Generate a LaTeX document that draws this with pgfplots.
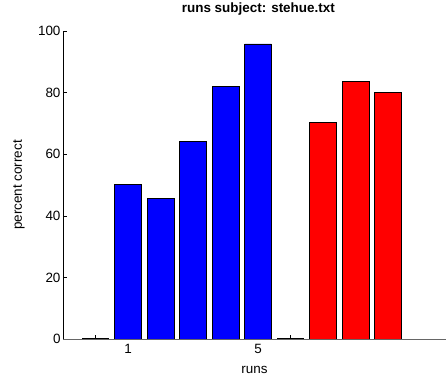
\documentclass[border=0pt]{standalone}
\usepackage{fontspec}
\setmainfont{Liberation Sans}
\usepackage{pgfplots}
\pgfplotsset{compat=1.18}
\begin{document}
\begin{tikzpicture}
\begin{axis}[
  set layers,
  scale only axis,
  width=383bp, height=308bp,
  xmin=-1, xmax=10.78,
  ymin=0, ymax=100,
  axis x line=bottom, axis y line=left,
  axis line style={-, black},
  x axis line style={black!60},
  ytick={0,20,40,60,80,100},
  xtick={1,5},
  extra x ticks={0,6},
  extra x tick labels={},
  tick align=inside,
  extra x tick style={tick align=inside, major tick length=4bp, tick style={black, line width=0.6pt}},
  major tick length=4bp,
  tick style={black, line width=0.5pt},
  /pgf/number format/assume math mode=true,
  ticklabel style={font=\fontsize{13.5}{15}\selectfont},
  yticklabel style={xshift=1bp},
  xticklabel style={yshift=-2bp},
  label style={font=\fontsize{13.5}{15}\selectfont},
  ylabel={percent correct},
  xlabel={runs},
  ylabel style={at={(rel axis cs:0,0.5)}, anchor=center, yshift=44bp},
  xlabel style={at={(rel axis cs:0.5,0)}, anchor=center, yshift=-31bp},
  title={\bfseries runs subject: stehue.txt},
  title style={font=\fontsize{13.5}{15}\selectfont, at={(rel axis cs:0.51,1)}, anchor=center, yshift=16bp},
]
\addplot[ybar, bar width=0.82, bar shift=0pt, fill={rgb,1:red,0;green,0;blue,1}, draw=black, line width=0.7pt] coordinates {(1,50.3) (2,45.7) (3,64.1) (4,82.0) (5,95.8)};
\addplot[ybar, bar width=0.82, bar shift=0pt, fill={rgb,1:red,1;green,0;blue,0}, draw=black, line width=0.7pt] coordinates {(7,70.3) (8,83.5) (9,80.0)};
% zero-height bars at runs 0 and 6
\addplot[black, line width=1.1pt, no marks, forget plot] coordinates {(-0.41,0) (0.41,0)};
\addplot[black, line width=1.1pt, no marks, forget plot] coordinates {(5.59,0) (6.41,0)};
\end{axis}
\pgfresetboundingbox
\path (current axis.south west) ++(-63bp,-41bp) rectangle ([yshift=31bp]current axis.north east);
\end{tikzpicture}
\end{document}
